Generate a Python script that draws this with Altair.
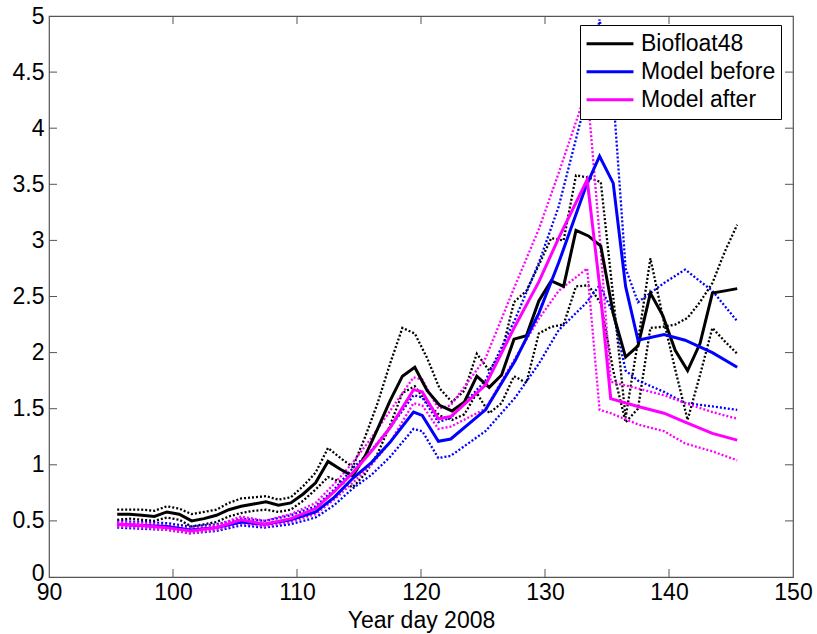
import altair as alt
import pandas as pd

# ---------------- data ----------------
float_days = [95.5, 96.5, 97.5, 98.5, 99.5, 100.5, 101.5, 102.5, 103.5, 104.5,
              105.5, 106.5, 107.5, 108.5, 109.5, 110.5, 111.5, 112.5, 113.5, 114.5,
              115.5, 116.5, 117.5, 118.5, 119.5, 120.5, 121.5, 122.5, 123.5, 124.5,
              125.5, 126.5, 127.5, 128.5, 129.5, 130.5, 131.5, 132.5, 133.5, 134.5,
              135.5, 136.5, 137.5, 138.5, 139.5, 140.5, 141.5, 142.5, 143.5, 144.5, 145.5]
float_mean = [0.56, 0.56, 0.55, 0.54, 0.58, 0.56, 0.50, 0.52, 0.55, 0.60,
              0.63, 0.65, 0.67, 0.64, 0.66, 0.74, 0.84, 1.03, 0.96, 0.90,
              1.08, 1.32, 1.57, 1.79, 1.87, 1.66, 1.53, 1.48, 1.56, 1.79,
              1.69, 1.80, 2.12, 2.15, 2.46, 2.64, 2.59, 3.09, 3.04, 2.95,
              2.35, 1.96, 2.06, 2.53, 2.33, 2.02, 1.84, 2.08, 2.53, 2.55, 2.57]
float_hi = [0.60, 0.60, 0.60, 0.59, 0.63, 0.61, 0.56, 0.58, 0.60, 0.66,
            0.70, 0.71, 0.72, 0.69, 0.71, 0.81, 0.93, 1.15, 1.06, 0.98,
            1.25, 1.55, 1.90, 2.22, 2.17, 1.95, 1.68, 1.56, 1.66, 1.99,
            1.84, 2.00, 2.45, 2.55, 2.78, 3.02, 3.00, 3.58, 3.56, 3.52,
            2.50, 1.42, 2.10, 2.84, 2.32, 1.85, 1.40, 1.80, 2.22, 2.10, 1.99]
float_lo = [0.51, 0.52, 0.51, 0.50, 0.53, 0.51, 0.45, 0.47, 0.49, 0.54,
            0.57, 0.59, 0.60, 0.58, 0.60, 0.68, 0.78, 0.89, 0.85, 0.80,
            0.92, 1.10, 1.35, 1.64, 1.70, 1.55, 1.44, 1.40, 1.45, 1.64,
            1.46, 1.55, 1.79, 1.73, 2.17, 2.23, 2.25, 2.59, 2.60, 2.44,
            1.84, 1.38, 1.50, 2.22, 2.23, 2.25, 2.31, 2.45, 2.62, 2.90, 3.14]

before_days = [95.5, 97.5, 99.5, 101.4, 103.5, 105.5, 107.4, 109.5, 111.5, 113.0,
               114.5, 116.0, 117.5, 119.4, 120.1, 121.4, 122.4, 125.2, 127.6, 129.5,
               131.1, 133.3, 134.4, 135.5, 136.5, 137.5, 139.6, 141.3, 143.5, 145.5]
before_mean = [0.47, 0.46, 0.45, 0.42, 0.44, 0.49, 0.47, 0.51, 0.58, 0.71,
               0.88, 1.02, 1.20, 1.47, 1.44, 1.21, 1.23, 1.49, 1.93, 2.35,
               2.80, 3.48, 3.75, 3.51, 2.59, 2.11, 2.16, 2.11, 2.00, 1.87]
before_hi = [0.50, 0.49, 0.48, 0.45, 0.47, 0.52, 0.50, 0.55, 0.63, 0.78,
             0.97, 1.13, 1.33, 1.62, 1.60, 1.38, 1.42, 1.75, 2.30, 2.80,
             3.30, 4.25, 4.97, 4.30, 2.75, 2.45, 2.62, 2.74, 2.55, 2.28]
before_lo = [0.44, 0.43, 0.42, 0.39, 0.41, 0.46, 0.44, 0.47, 0.53, 0.64,
             0.79, 0.91, 1.07, 1.32, 1.30, 1.06, 1.08, 1.30, 1.60, 1.90,
             2.20, 2.44, 2.60, 2.35, 1.84, 1.75, 1.65, 1.55, 1.52, 1.49]

after_days = [95.5, 97.5, 99.5, 101.4, 103.5, 105.5, 107.4, 109.5, 111.5, 113.0,
              114.5, 116.0, 117.5, 119.4, 120.1, 121.4, 122.4, 125.2, 127.6, 129.5,
              131.1, 133.4, 134.4, 135.3, 137.5, 139.6, 141.3, 143.5, 145.5]
after_mean = [0.47, 0.46, 0.44, 0.41, 0.44, 0.51, 0.47, 0.52, 0.61, 0.76,
              0.93, 1.12, 1.33, 1.67, 1.65, 1.41, 1.43, 1.71, 2.24, 2.63,
              3.02, 3.54, 2.60, 1.59, 1.52, 1.46, 1.38, 1.28, 1.22]
after_hi = [0.49, 0.48, 0.46, 0.43, 0.46, 0.54, 0.50, 0.56, 0.66, 0.83,
            1.02, 1.24, 1.48, 1.78, 1.76, 1.50, 1.53, 1.95, 2.60, 3.10,
            3.60, 4.35, 3.05, 1.74, 1.68, 1.62, 1.55, 1.47, 1.41]
after_lo = [0.45, 0.44, 0.42, 0.39, 0.42, 0.48, 0.45, 0.49, 0.56, 0.69,
            0.84, 1.00, 1.20, 1.55, 1.53, 1.32, 1.34, 1.50, 1.95, 2.30,
            2.55, 2.75, 1.49, 1.46, 1.36, 1.30, 1.19, 1.12, 1.04]

series_names = ["Biofloat48", "Model before", "Model after"]
series_colors = ["#000000", "#0000FF", "#FF00FF"]
x_ticks = [90, 100, 110, 120, 130, 140, 150]
y_ticks = [0, 0.5, 1, 1.5, 2, 2.5, 3, 3.5, 4, 4.5, 5]

# ---------------- tables ----------------
rows = []
def add(name, days, mean, hi, lo):
    for i, d in enumerate(days):
        rows.append(dict(series=name, day=d, value=mean[i], band="mean", idx=i))
        rows.append(dict(series=name, day=d, value=hi[i], band="hi", idx=i))
        rows.append(dict(series=name, day=d, value=lo[i], band="lo", idx=i))

add(series_names[0], float_days, float_mean, float_hi, float_lo)
add(series_names[1], before_days, before_mean, before_hi, before_lo)
add(series_names[2], after_days, after_mean, after_hi, after_lo)
df = pd.DataFrame(rows)
df["key"] = df["series"] + "_" + df["band"]

W, H = 744, 561
FONT = "Liberation Sans"

xs = alt.Scale(domain=[90, 150], nice=False, zero=False)
ys = alt.Scale(domain=[0, 5], nice=False)
cs = alt.Scale(domain=series_names, range=series_colors)

legend = alt.Legend(title=None, orient="none", legendX=531, legendY=9,
                    fillColor="white", strokeColor="black",
                    symbolType="stroke", symbolSize=2200,
                    symbolStrokeWidth=3, labelFontSize=23, labelFont=FONT,
                    labelColor="black", padding=5, rowPadding=0, clipHeight=27.5,
                    labelOffset=6, cornerRadius=0, symbolOpacity=1)

x_enc = alt.X("day:Q", scale=xs,
              axis=alt.Axis(values=x_ticks, title="Year day 2008", grid=False, ticks=False,
                            domain=False, labelFontSize=23, labelFont=FONT, labelColor="black",
                            labelPadding=4, titleFontSize=23, titleFont=FONT,
                            titleFontWeight="normal", titleColor="black", titlePadding=5,
                            labelFlush=False))
y_enc = alt.Y("value:Q", scale=ys,
              axis=alt.Axis(values=y_ticks, title=None, grid=False, ticks=False, domain=False,
                            labelFontSize=23, labelFont=FONT, labelColor="black",
                            labelPadding=5, format="~g", labelFlush=False,
                            labelOffset={"condition": {"test": "datum.value == 0", "value": -4},
                                         "value": 0}))

dotted = alt.Chart(df[df["band"] != "mean"]).mark_line(
    strokeWidth=2.3, strokeDash=[2, 2]
).encode(
    x=x_enc, y=y_enc,
    color=alt.Color("series:N", scale=cs, legend=legend),
    detail="key:N",
    order="idx:Q",
)

solid = alt.Chart(df[df["band"] == "mean"]).mark_line(strokeWidth=3).encode(
    x=x_enc, y=y_enc,
    color=alt.Color("series:N", scale=cs, legend=legend),
    detail="key:N",
    order="idx:Q",
)

xt = pd.DataFrame({"t": x_ticks[1:-1]})
yt = pd.DataFrame({"t": y_ticks[1:-1]})
tick_col = "#555555"
bt = alt.Chart(xt).mark_rule(color=tick_col).encode(x=alt.X("t:Q", scale=xs), y=alt.value(H), y2=alt.value(H - 8))
tt = alt.Chart(xt).mark_rule(color=tick_col).encode(x=alt.X("t:Q", scale=xs), y=alt.value(0), y2=alt.value(8))
lt = alt.Chart(yt).mark_rule(color=tick_col).encode(y=alt.Y("t:Q", scale=ys), x=alt.value(0), x2=alt.value(8))
rt = alt.Chart(yt).mark_rule(color=tick_col).encode(y=alt.Y("t:Q", scale=ys), x=alt.value(W), x2=alt.value(W - 8))

chart = alt.layer(bt, tt, lt, rt, dotted, solid).properties(
    width=W, height=H,
    autosize=alt.AutoSizeParams(type="none"),
    padding={"left": 49, "top": 16, "right": 24, "bottom": 57},
    background="white",
).configure_view(stroke="#555555", strokeWidth=1.2)

chart.save("out.html", embed_options={"renderer": "svg", "actions": False})
